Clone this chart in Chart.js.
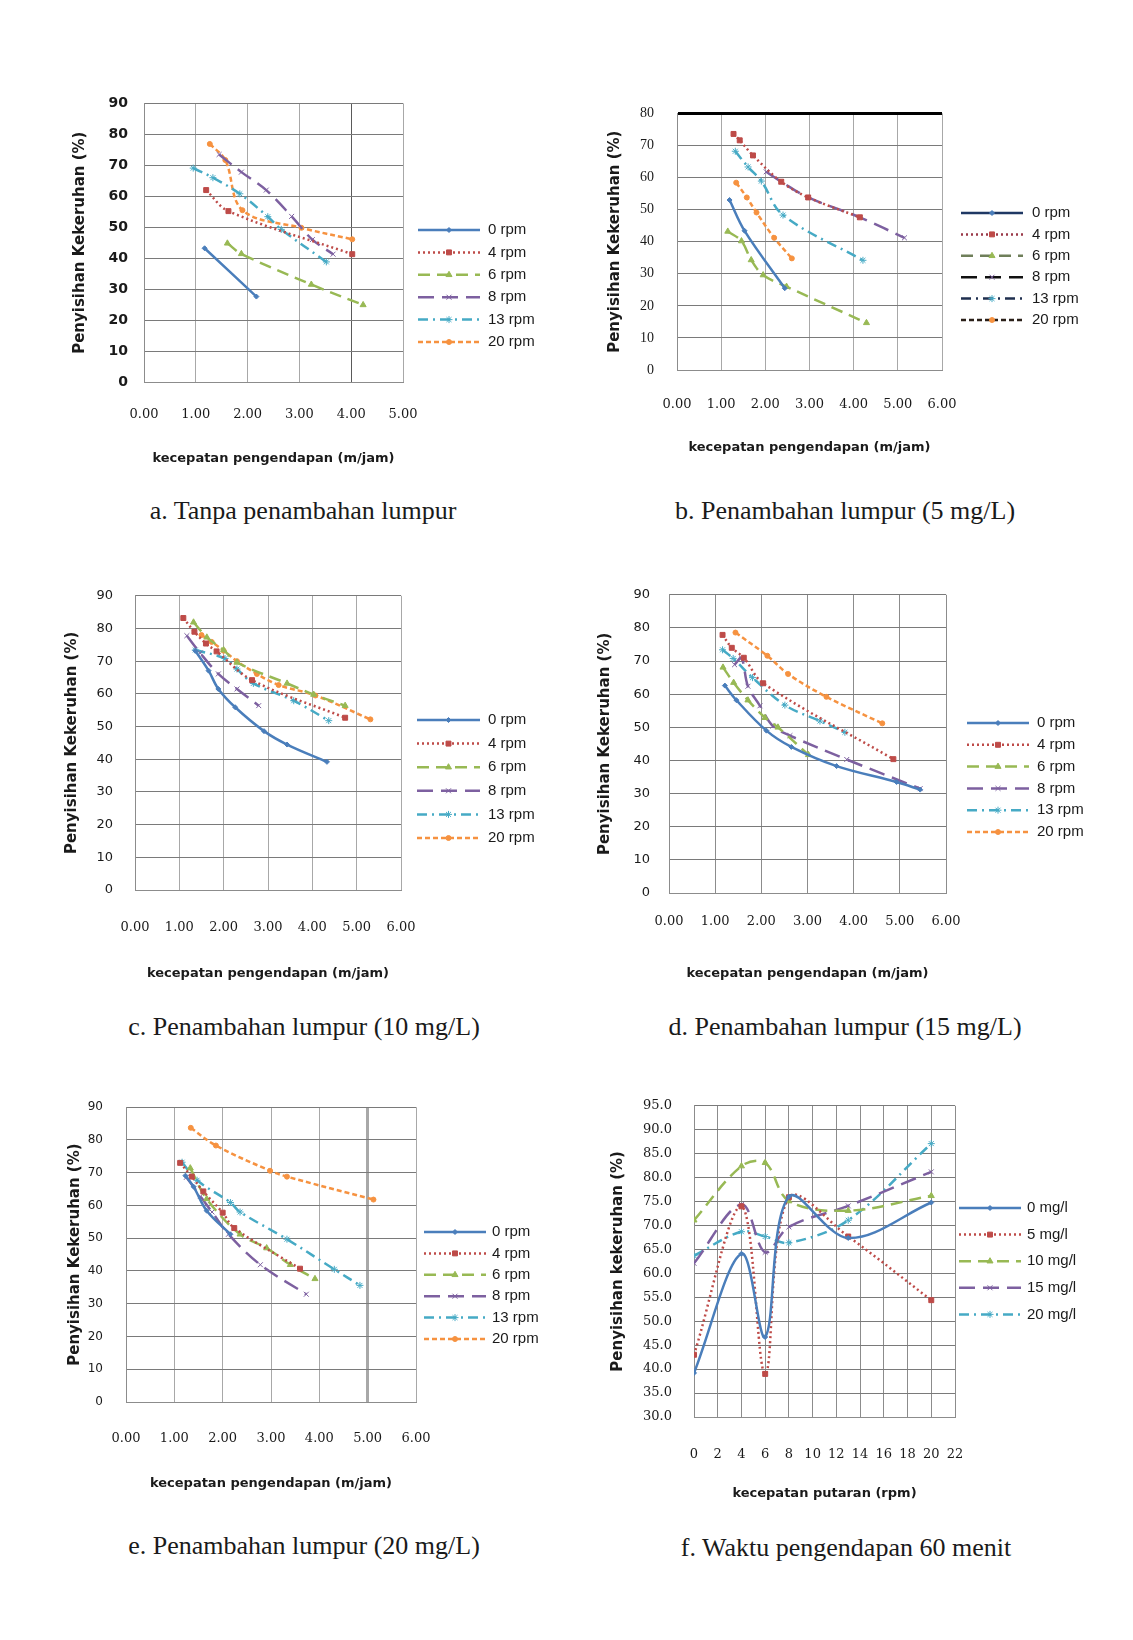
<!DOCTYPE html>
<html>
<head>
<meta charset="utf-8">
<script src="https://cdn.jsdelivr.net/npm/chart.js@4.4.1/dist/chart.umd.min.js"></script>
<style>
  body { margin: 0; background: #fff; }
  #page { position: relative; width: 1133px; height: 1640px; background: #fff; overflow: hidden; }
  canvas { position: absolute; }
  .cap { position: absolute; font-family: 'Liberation Serif', 'Times New Roman', serif; font-size: 26px;
         line-height: 30px; color: #1a1a1a; white-space: nowrap; transform: translateX(-50%); }
</style>
</head>
<body>
<div id="page">
  <canvas id="chartA"></canvas>
  <canvas id="chartB"></canvas>
  <canvas id="chartC"></canvas>
  <canvas id="chartD"></canvas>
  <canvas id="chartE"></canvas>
  <canvas id="chartF"></canvas>
  <div class="cap" style="left:303px; top:496px">a. Tanpa penambahan lumpur</div>
  <div class="cap" style="left:845px; top:496px">b. Penambahan lumpur (5 mg/L)</div>
  <div class="cap" style="left:304px; top:1012px">c. Penambahan lumpur (10 mg/L)</div>
  <div class="cap" style="left:845px; top:1012px">d. Penambahan lumpur (15 mg/L)</div>
  <div class="cap" style="left:304px; top:1531px">e. Penambahan lumpur (20 mg/L)</div>
  <div class="cap" style="left:846px; top:1533px">f. Waktu pengendapan 60 menit</div>
</div>
<script>
// series names
const rpmLabels = ['0 rpm', '4 rpm', '6 rpm', '8 rpm', '13 rpm', '20 rpm'];
const mgLabels = ['0 mg/l', '5 mg/l', '10 mg/l', '15 mg/l', '20 mg/l'];

// a. Tanpa penambahan lumpur  -> [kecepatan pengendapan, penyisihan %]
const a0 = [[1.17, 43.2], [2.17, 27.6]];
const a4 = [[1.20, 62.0], [1.63, 55.2], [4.02, 41.3]];
const a6 = [[1.61, 44.8], [1.88, 41.4], [3.23, 31.5], [4.23, 24.9]];
const a8 = [[1.45, 73.5], [1.88, 67.8], [2.36, 62.0], [2.85, 53.5], [3.25, 46.0], [3.65, 41.3]];
const a13 = [[0.95, 69.1], [1.33, 66.0], [1.85, 60.8], [2.39, 53.4], [2.65, 49.3], [3.52, 38.8]];
const a20 = [[1.27, 76.9], [1.57, 71.7], [1.90, 55.5], [3.04, 49.8], [4.02, 46.1]];

// b. Penambahan lumpur (5 mg/L)
const b0 = [[1.19, 53.0], [1.53, 43.4], [2.44, 25.5]];
const b4 = [[1.28, 73.6], [1.42, 71.6], [1.72, 66.9], [2.36, 58.7], [2.97, 53.8], [4.14, 47.6]];
const b6 = [[1.15, 43.2], [1.46, 40.2], [1.68, 34.3], [1.95, 29.6], [2.48, 26.0], [4.29, 14.7]];
const b8 = [[2.02, 61.8], [2.36, 58.7], [2.97, 53.8], [4.14, 47.6], [5.15, 41.2]];
const b13 = [[1.32, 68.2], [1.61, 63.3], [1.91, 58.9], [2.40, 48.3], [4.21, 34.2]];
const b20 = [[1.34, 58.4], [1.58, 53.8], [1.80, 49.1], [2.20, 41.2], [2.60, 34.8]];

// c. Penambahan lumpur (10 mg/L)
const c0 = [[1.36, 73.2], [1.66, 67.1], [1.88, 61.5], [2.26, 55.9], [2.91, 48.6], [3.43, 44.5], [4.33, 39.2]];
const c4 = [[1.09, 83.2], [1.34, 79.0], [1.60, 75.4], [1.84, 73.0], [2.64, 64.2], [4.74, 52.7]];
const c6 = [[1.32, 81.9], [1.62, 77.3], [2.00, 73.4], [2.30, 69.6], [3.43, 63.2], [4.03, 59.8], [4.74, 56.4]];
const c8 = [[1.17, 77.8], [1.47, 72.5], [1.88, 66.1], [2.30, 61.5], [2.79, 56.4]];
const c13 = [[1.36, 73.4], [2.03, 70.8], [2.30, 67.6], [2.67, 63.2], [3.58, 57.9], [4.37, 51.8]];
const c20 = [[1.50, 78.0], [1.73, 75.9], [2.00, 73.2], [2.30, 70.0], [2.75, 66.1], [3.24, 62.7], [4.07, 59.5], [5.31, 52.2]];

// d. Penambahan lumpur (15 mg/L)
const d0 = [[1.21, 62.6], [1.46, 58.2], [2.11, 49.0], [2.65, 44.1], [3.63, 38.3], [4.93, 33.5], [5.44, 31.2]];
const d4 = [[1.16, 77.9], [1.36, 74.0], [1.62, 71.0], [2.04, 63.3], [4.86, 40.4]];
const d6 = [[1.17, 68.1], [1.40, 63.5], [1.71, 58.2], [2.08, 52.9], [2.36, 50.0], [3.02, 41.7]];
const d8 = [[1.42, 68.9], [1.57, 70.9], [1.71, 62.4], [1.97, 56.5], [2.25, 50.4], [2.62, 47.5], [3.85, 40.3], [5.44, 31.5]];
const d13 = [[1.16, 73.4], [1.39, 70.8], [1.81, 65.0], [2.51, 56.7], [3.27, 51.9], [3.81, 48.5]];
const d20 = [[1.44, 78.6], [2.13, 71.6], [2.58, 66.1], [3.41, 59.2], [4.62, 51.2]];

// e. Penambahan lumpur (20 mg/L)
const e0 = [[1.23, 69.1], [1.40, 65.7], [1.67, 58.4], [2.16, 51.2]];
const e4 = [[1.12, 73.0], [1.36, 68.8], [1.60, 64.3], [2.00, 57.8], [2.24, 53.1], [3.60, 40.7]];
const e6 = [[1.33, 71.4], [1.67, 62.0], [2.36, 51.2], [2.91, 47.0], [3.40, 41.9], [3.91, 37.6]];
const e8 = [[1.25, 68.6], [1.54, 62.8], [1.78, 58.0], [2.12, 51.2], [2.78, 41.9], [3.73, 32.9]];
const e13 = [[1.16, 73.2], [1.47, 67.7], [2.16, 60.9], [2.36, 58.0], [3.33, 49.7], [4.31, 40.5], [4.84, 35.6]];
const e20 = [[1.34, 83.7], [1.86, 78.3], [2.98, 70.6], [3.33, 68.8], [5.12, 61.8]];

// f. Waktu pengendapan 60 menit (x = kecepatan putaran, rpm)
const fRpm = [0, 4, 6, 8, 13, 20];
const f0 = [39.2, 64.1, 46.7, 76.0, 67.4, 74.8];
const f5 = [43.0, 74.0, 39.0, 75.9, 67.7, 54.4];
const f10 = [71.1, 82.4, 83.1, 75.1, 73.1, 76.2];
const f15 = [62.1, 74.4, 64.4, 69.7, 74.1, 81.2];
const f20 = [63.7, 68.7, 67.7, 66.4, 71.1, 87.1];

// line looks (Excel 2007 palette)
const STYLE = [
    { color: '#4A7EBB', dash: [],            point: 'rectRot',  r: 2.5 },
    { color: '#BE4B48', dash: [2, 3],        point: 'rect',     r: 3.5 },
    { color: '#98B954', dash: [12, 7],       point: 'triangle', r: 3.5 },
    { color: '#7D60A0', dash: [16, 8],       point: 'crossRot', r: 3.5 },
    { color: '#46AAC5', dash: [10, 5, 2, 5], point: 'star',     r: 3.5 },
    { color: '#F69240', dash: [5, 3],        point: 'circle',   r: 2.5 }
];
const TXT = '#1a1a1a';

function buildSets(series, labels, xs) {
    return series.map((s, i) => ({
        label: labels[i],
        data: xs ? s.map((y, j) => ({ x: xs[j], y: y })) : s.map(p => ({ x: p[0], y: p[1] })),
        borderColor: STYLE[i].color,
        borderWidth: 2.5,
        borderDash: STYLE[i].dash,
        pointStyle: STYLE[i].point,
        pointRadius: STYLE[i].r,
        pointBackgroundColor: STYLE[i].color,
        pointBorderColor: STYLE[i].color,
        pointBorderWidth: 1,
        tension: 0.35,
        fill: false
    }));
}

// legend drawn at the right of the plot: line sample + marker + text
const sideLegend = {
    id: 'sideLegend',
    afterDraw(chart, args, opts) {
        const ctx = chart.ctx;
        chart.data.datasets.forEach((ds, i) => {
            const y = opts.top + i * opts.step;
            const x0 = opts.left, x1 = opts.left + opts.len;
            ctx.save();
            ctx.lineWidth = ds.borderWidth;
            ctx.strokeStyle = (opts.lineColors && opts.lineColors[i]) || ds.borderColor;
            ctx.setLineDash(ds.borderDash || []);
            ctx.beginPath();
            ctx.moveTo(x0, y);
            ctx.lineTo(x1, y);
            ctx.stroke();
            ctx.setLineDash([]);
            ctx.fillStyle = ds.pointBackgroundColor;
            ctx.strokeStyle = ds.pointBorderColor;
            ctx.lineWidth = 1;
            Chart.helpers.drawPoint(ctx, { pointStyle: ds.pointStyle, radius: ds.pointRadius, rotation: 0, borderWidth: 1 }, (x0 + x1) / 2, y);
            ctx.fillStyle = TXT;
            ctx.font = opts.labelFont;
            ctx.textBaseline = 'middle';
            ctx.textAlign = 'left';
            ctx.fillText(ds.label, opts.textX, y);
            ctx.restore();
        });
    }
};

// g holds page positions of the plot box, tick labels, titles and legend
function makeChart(id, g, datasets, s) {
    const cv = document.getElementById(id);
    const [L, T, R, B] = g.plot;
    const cx = Math.round(g.yTitleX - 9);
    const cy = T - 16;
    const bottom = Math.round(g.xTitleY + 8);
    cv.width = g.right - cx;
    cv.height = bottom - cy;
    cv.style.left = cx + 'px';
    cv.style.top = cy + 'px';

    new Chart(cv, {
        type: 'line',
        data: { datasets: datasets },
        options: {
            responsive: false,
            animation: false,
            events: [],
            layout: { padding: { left: 0, top: T - cy, right: g.right - R, bottom: 0 } },
            plugins: {
                legend: { display: false },
                tooltip: { enabled: false },
                sideLegend: {
                    left: g.legend.left - cx, len: g.legend.len, textX: g.legend.textX - cx,
                    top: g.legend.top - cy, step: g.legend.step,
                    labelFont: '15px "Liberation Sans", Arial, sans-serif',
                    lineColors: g.legend.lineColors
                }
            },
            scales: {
                x: {
                    type: 'linear', min: s.xMin, max: s.xMax,
                    ticks: {
                        stepSize: s.xStep, autoSkip: false, maxRotation: 0, color: TXT,
                        padding: g.xTickY - B - 7.8,
                        font: { family: '"DejaVu Serif", serif', size: 13 },
                        callback: v => v.toFixed(s.xDec)
                    },
                    grid: { drawTicks: false, color: s.vColor, lineWidth: s.vWidth },
                    border: { color: '#8c8c8c', width: 1 },
                    title: {
                        display: true, text: s.xTitle, color: TXT, padding: 0,
                        font: { family: '"DejaVu Sans", sans-serif', size: 13, weight: 'bold' }
                    },
                    afterFit(scale) { scale.height = bottom - B; }
                },
                y: {
                    min: s.yMin, max: s.yMax,
                    ticks: {
                        stepSize: s.yStep, autoSkip: false, color: TXT,
                        padding: L - g.yTickRight,
                        font: s.yFont,
                        callback: v => v.toFixed(s.yDec)
                    },
                    grid: { drawTicks: false, color: s.hColor, lineWidth: s.hWidth },
                    border: { color: '#8c8c8c', width: 1 },
                    title: {
                        display: true, text: s.yTitle, color: TXT, padding: 0,
                        font: { family: '"DejaVu Sans", sans-serif', size: 15, weight: 'bold' }
                    },
                    afterFit(scale) { scale.width = L - cx; }
                }
            }
        },
        plugins: [sideLegend]
    });
}

const H_GRID = '#7a7a7a', V_GRID = '#a8a8a8';
const yTitle = 'Penyisihan Kekeruhan (%)';
const xTitle = 'kecepatan pengendapan (m/jam)';
const sansTick = (size, weight) => ({ family: '"DejaVu Sans", sans-serif', size: size, weight: weight || 'normal' });

// a
makeChart('chartA',
    { plot: [144, 95, 403, 382], yTitleX: 80, yTickRight: 128, xTickY: 415, xTitleY: 458, right: 552,
      legend: { left: 418, len: 62, textX: 488, top: 230, step: 22.4 } },
    buildSets([a0, a4, a6, a8, a13, a20], rpmLabels),
    { xMin: 0, xMax: 5, xStep: 1, xDec: 2, yMin: 0, yMax: 90, yStep: 10, yDec: 0,
      xTitle: xTitle, yTitle: yTitle, yFont: sansTick(14, 'bold'),
      hColor: H_GRID, hWidth: 1,
      vColor: c => (c.tick && c.tick.value === 4 ? '#5a5a5a' : V_GRID), vWidth: 1 });

// b
makeChart('chartB',
    { plot: [677, 98, 942, 370], yTitleX: 615, yTickRight: 654, xTickY: 405, xTitleY: 447, right: 1105,
      legend: { left: 961, len: 62, textX: 1032, top: 213, step: 21.4,
                lineColors: ['#1F3864', '#9B3A4A', '#6F7F5A', '#111111', '#1F2F4F', '#2A1F18'] } },
    buildSets([b0, b4, b6, b8, b13, b20], rpmLabels),
    { xMin: 0, xMax: 6, xStep: 1, xDec: 2, yMin: 0, yMax: 80, yStep: 10, yDec: 0,
      xTitle: xTitle, yTitle: yTitle, yFont: { family: '"Liberation Serif", serif', size: 14 },
      hColor: c => (c.tick && c.tick.value === 80 ? '#000' : H_GRID),
      hWidth: c => (c.tick && c.tick.value === 80 ? 3 : 1),
      vColor: V_GRID, vWidth: 1 });

// c
makeChart('chartC',
    { plot: [135, 582, 401, 890], yTitleX: 72, yTickRight: 113, xTickY: 928, xTitleY: 973, right: 560,
      legend: { left: 417, len: 63, textX: 488, top: 720, step: 23.6 } },
    buildSets([c0, c4, c6, c8, c13, c20], rpmLabels),
    { xMin: 0, xMax: 6, xStep: 1, xDec: 2, yMin: 0, yMax: 90, yStep: 10, yDec: 0,
      xTitle: xTitle, yTitle: yTitle, yFont: sansTick(13),
      hColor: H_GRID, hWidth: 1, vColor: V_GRID, vWidth: 1 });

// d
makeChart('chartD',
    { plot: [669, 584, 946, 893], yTitleX: 605, yTickRight: 650, xTickY: 922, xTitleY: 973, right: 1110,
      legend: { left: 967, len: 62, textX: 1037, top: 723, step: 21.8 } },
    buildSets([d0, d4, d6, d8, d13, d20], rpmLabels),
    { xMin: 0, xMax: 6, xStep: 1, xDec: 2, yMin: 0, yMax: 90, yStep: 10, yDec: 0,
      xTitle: xTitle, yTitle: yTitle, yFont: sansTick(13),
      hColor: H_GRID, hWidth: 1, vColor: '#8c8c8c', vWidth: 1 });

// e
makeChart('chartE',
    { plot: [126, 1093, 416, 1402], yTitleX: 75, yTickRight: 103, xTickY: 1439, xTitleY: 1483, right: 570,
      legend: { left: 424, len: 62, textX: 492, top: 1232, step: 21.4 } },
    buildSets([e0, e4, e6, e8, e13, e20], rpmLabels),
    { xMin: 0, xMax: 6, xStep: 1, xDec: 2, yMin: 0, yMax: 90, yStep: 10, yDec: 0,
      xTitle: xTitle, yTitle: yTitle, yFont: sansTick(12),
      hColor: H_GRID, hWidth: 1,
      vColor: V_GRID, vWidth: c => (c.tick && c.tick.value === 5 ? 3 : 1) });

// f
makeChart('chartF',
    { plot: [694, 1092, 955, 1417], yTitleX: 618, yTickRight: 672, xTickY: 1455, xTitleY: 1493, right: 1110,
      legend: { left: 959, len: 62, textX: 1027, top: 1208, step: 26.6 } },
    buildSets([f0, f5, f10, f15, f20], mgLabels, fRpm),
    { xMin: 0, xMax: 22, xStep: 2, xDec: 0, yMin: 30, yMax: 95, yStep: 5, yDec: 1,
      xTitle: 'kecepatan putaran (rpm)', yTitle: 'Penyisihan kekeruhan (%)',
      yFont: { family: '"DejaVu Serif", serif', size: 13 },
      hColor: H_GRID, hWidth: 1, vColor: '#8c8c8c', vWidth: 1 });
</script>
</body>
</html>
